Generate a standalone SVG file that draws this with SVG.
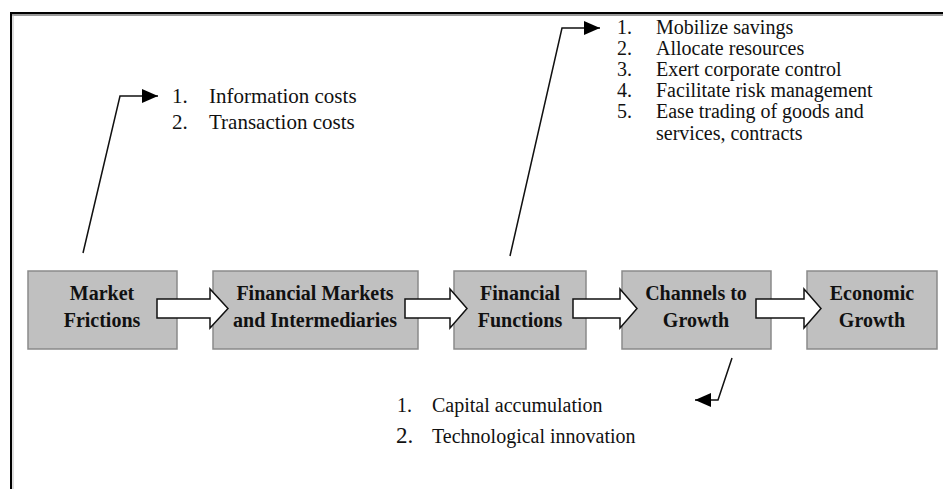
<svg xmlns="http://www.w3.org/2000/svg" width="943" height="489" viewBox="0 0 943 489">
<style>
.box{fill:#c0c0c0;stroke:#8a8a8a;stroke-width:1.5}
.lbl{font-family:"Liberation Serif",serif;font-weight:bold;font-size:20px;fill:#111;text-anchor:middle}
.txt{font-family:"Liberation Serif",serif;font-size:20px;fill:#111}
.big{font-size:21px}
.blk{fill:#fff;stroke:#111;stroke-width:1.5;stroke-linejoin:miter}
.call{fill:none;stroke:#111;stroke-width:1.5}
</style>
<defs>
<marker id="ah" markerUnits="userSpaceOnUse" markerWidth="17" markerHeight="15" refX="16" refY="7" orient="auto">
<path d="M0,0 L16,7 L0,14 z" fill="#000"/>
</marker>
</defs>
<rect width="943" height="489" fill="#fff"/>
<g id="frame">
<line x1="11" y1="15" x2="943" y2="15" stroke="#999" stroke-width="2"/>
<line x1="10" y1="13" x2="943" y2="13" stroke="#000" stroke-width="2"/>
<line x1="11" y1="12" x2="11" y2="489" stroke="#000" stroke-width="2"/>
<line x1="13" y1="15" x2="13" y2="489" stroke="#bbb" stroke-width="1"/>
</g>
<g id="n1"><rect class="box" x="28" y="271" width="149" height="78"/>
<text class="lbl" x="102" y="300">Market</text><text class="lbl" x="102" y="327">Frictions</text></g>
<g id="n2"><rect class="box" x="213" y="271" width="205" height="78"/>
<text class="lbl" x="315" y="300">Financial Markets</text><text class="lbl" x="315" y="327">and Intermediaries</text></g>
<g id="n3"><rect class="box" x="454" y="271" width="132" height="78"/>
<text class="lbl" x="520" y="300">Financial</text><text class="lbl" x="520" y="327">Functions</text></g>
<g id="n4"><rect class="box" x="622" y="271" width="149" height="78"/>
<text class="lbl" x="696" y="300">Channels to</text><text class="lbl" x="696" y="327">Growth</text></g>
<g id="n5"><rect class="box" x="807" y="271" width="130" height="78"/>
<text class="lbl" x="872" y="300">Economic</text><text class="lbl" x="872" y="327">Growth</text></g>
<g id="connectors">
<path class="blk" d="M157,299 L210,299 L210,289 L228,308.5 L210,328 L210,318 L157,318 Z"/>
<path class="blk" d="M405,299 L450,299 L450,289 L467,308.5 L450,328 L450,318 L405,318 Z"/>
<path class="blk" d="M573,299 L620,299 L620,289 L637,308.5 L620,328 L620,318 L573,318 Z"/>
<path class="blk" d="M756,299 L804,299 L804,289 L821,308.5 L804,328 L804,318 L756,318 Z"/>
<polyline class="call" points="83,253 120,96 158,96" marker-end="url(#ah)"/>
<polyline class="call" points="510,256 562,28 600,28" marker-end="url(#ah)"/>
<polyline class="call" points="732,358 718,400 695,400" marker-end="url(#ah)"/>
</g>
<g id="list1">
<text class="txt big" x="172" y="103">1.</text><text class="txt big" x="209" y="103">Information costs</text>
<text class="txt big" x="172" y="129">2.</text><text class="txt big" x="209" y="129">Transaction costs</text>
</g>
<g id="list2">
<text class="txt" x="617" y="34">1.</text><text class="txt" x="656" y="34">Mobilize savings</text>
<text class="txt" x="617" y="55">2.</text><text class="txt" x="656" y="55">Allocate resources</text>
<text class="txt" x="617" y="76">3.</text><text class="txt" x="656" y="76">Exert corporate control</text>
<text class="txt" x="617" y="97">4.</text><text class="txt" x="656" y="97">Facilitate risk management</text>
<text class="txt" x="617" y="118">5.</text><text class="txt" x="656" y="118">Ease trading of goods and</text>
<text class="txt" x="656" y="140">services, contracts</text>
</g>
<g id="list3">
<text class="txt" x="397" y="412">1.</text><text class="txt" x="432" y="412">Capital accumulation</text>
<text class="txt" x="396" y="443" style="font-size:23px">2.</text><text class="txt" x="432" y="443">Technological innovation</text>
</g>
</svg>
